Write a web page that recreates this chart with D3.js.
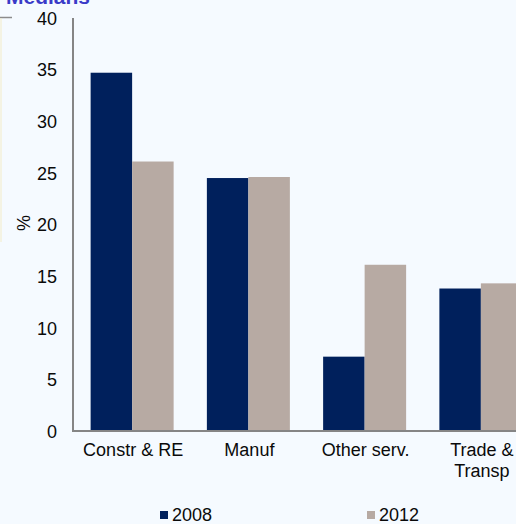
<!DOCTYPE html>
<html>
<head>
<meta charset='UTF-8' />
<style>
	body { margin: 0; background: #f5faff; }
	svg { display: block; font-family: 'Liberation Sans', Arial, sans-serif; }
	.axis path { stroke: #858585; stroke-width: 2px; shape-rendering: crispEdges; }
	.axis line { display: none; }
	.axis text { fill: #0a0a0a; font-size: 18px; }
</style>
</head>
<body>
<script src='https://cdn.jsdelivr.net/npm/d3@7'></script>
<script>
'use strict';
const categories = ['Constr & RE', 'Manuf', 'Other serv.', 'Trade & Transp'];
const seriesNames = ['2008', '2012'];
const values2008 = [34.7, 24.5, 7.2, 13.8];
const values2012 = [26.1, 24.6, 16.1, 14.3];
const yTicks = [0, 5, 10, 15, 20, 25, 30, 35, 40];
const colors = ['#00205c', '#b7aaa3'];

const width = 516, height = 524;
const svg = d3.select('body').append('svg')
	.attr('width', width)
	.attr('height', height);

// cut-off title and frame from a neighbouring panel
svg.append('text')
	.attr('x', 6).attr('y', 4)
	.attr('fill', '#3a3ac8')
	.attr('font-size', '21px')
	.attr('font-weight', 'bold')
	.text('Medians');
svg.append('line').attr('x1', 0).attr('x2', 12).attr('y1', 17.5).attr('y2', 17.5)
	.attr('stroke', '#8c8c8c').attr('stroke-width', 1.5);
svg.append('line').attr('x1', 1).attr('x2', 1).attr('y1', 18).attr('y2', 242)
	.attr('stroke', '#f3ecc8').attr('stroke-width', 1);

const x0 = d3.scaleBand()
	.domain(categories)
	.range([74, 539])
	.paddingInner(0.286)
	.paddingOuter(0.143);

const x1 = d3.scaleBand()
	.domain(seriesNames)
	.range([0, x0.bandwidth()]);

const y = d3.scaleLinear()
	.domain([0, 40])
	.range([431, 18]);

const rows = categories.map(function(c, i) {
	return { cat: c, vals: [values2008[i], values2012[i]] };
});

// bars
const groups = svg.selectAll('g.cat')
	.data(rows)
	.enter().append('g')
	.attr('class', 'cat')
	.attr('transform', function(d) { return 'translate(' + x0(d.cat) + ',0)'; });

groups.selectAll('rect')
	.data(function(d) { return d.vals.map(function(v, j) { return { s: seriesNames[j], v: v, j: j }; }); })
	.enter().append('rect')
	.attr('x', function(d) { return x1(d.s); })
	.attr('width', x1.bandwidth())
	.attr('y', function(d) { return y(d.v); })
	.attr('height', function(d) { return y(0) - y(d.v); })
	.attr('fill', function(d) { return colors[d.j]; });

// y axis
svg.append('g')
	.attr('class', 'axis')
	.attr('transform', 'translate(73,0)')
	.call(d3.axisLeft(y).tickValues(yTicks).tickSize(0).tickPadding(16))
	.call(function(g) { g.select('.domain').attr('d', 'M0,' + y(40) + 'V' + y(0)); })
	.selectAll('text').attr('dy', '0.35em');

// x axis
const xAxis = svg.append('g')
	.attr('class', 'axis')
	.attr('transform', 'translate(0,' + y(0) + ')')
	.call(d3.axisBottom(x0).tickSize(0).tickPadding(12))
	.call(function(g) { g.select('.domain').attr('d', 'M72,0H' + width); });

xAxis.selectAll('text')
	.text(null)
	.each(function(d) {
		const t = d3.select(this);
		const parts = d === 'Trade & Transp' ? ['Trade &', 'Transp'] : [d];
		parts.forEach(function(p, i) {
			t.append('tspan')
				.attr('x', 1)
				.attr('dy', i === 0 ? '0.71em' : '1.2em')
				.text(p);
		});
	});

// y label
svg.append('text')
	.attr('transform', 'translate(30,223) rotate(-90)')
	.attr('text-anchor', 'middle')
	.attr('font-size', '18px')
	.attr('fill', '#0a0a0a')
	.text('%');

// legend
const legendX = [160, 367];
seriesNames.forEach(function(s, i) {
	svg.append('rect')
		.attr('x', legendX[i]).attr('y', 511)
		.attr('width', 8).attr('height', 8)
		.attr('fill', colors[i]);
	svg.append('text')
		.attr('x', legendX[i] + 12).attr('y', 521)
		.attr('font-size', '18px')
		.attr('fill', '#0a0a0a')
		.text(s);
});
</script>
</body>
</html>
